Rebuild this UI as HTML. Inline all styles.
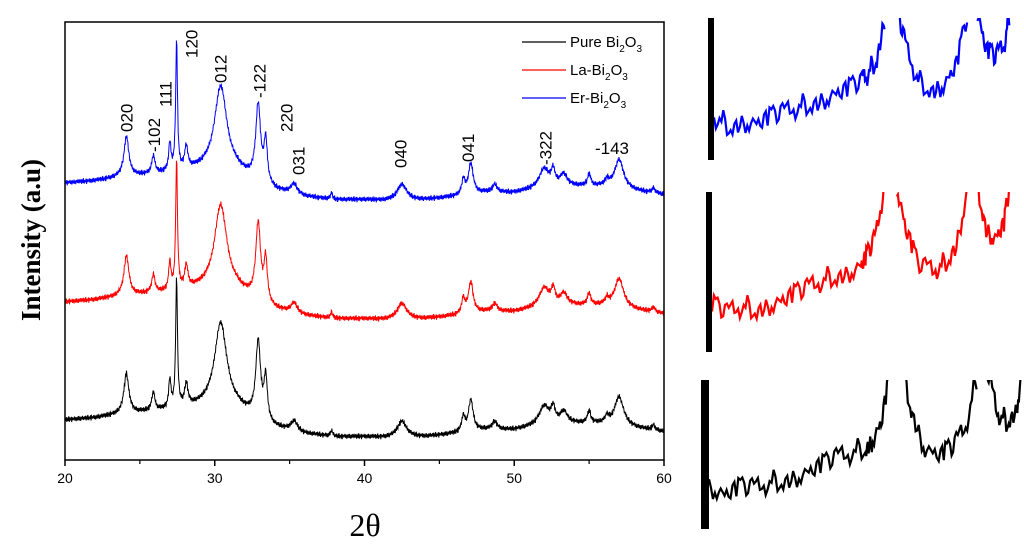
<!DOCTYPE html>
<html><head><meta charset="utf-8">
<style>
html,body{margin:0;padding:0;background:#fff;width:1024px;height:545px;overflow:hidden}
svg text{font-family:"Liberation Sans",Arial,sans-serif}
</style></head>
<body>
<svg id="chart" width="1024" height="545" viewBox="0 0 1024 545" xmlns="http://www.w3.org/2000/svg">
  <g id="plot"></g>
  <g id="labels"></g>
  <g id="axes"></g>
  <g id="legend"></g>
  <g id="insets"></g>
  <text x="40" y="240" transform="rotate(-90 40 240)" text-anchor="middle" style="font-family:'Liberation Serif',serif;font-weight:bold;font-size:27px">Intensity (a.u)</text>
  <text x="365" y="536" text-anchor="middle" style="font-family:'Liberation Serif',serif;font-size:32px">2θ</text>
</svg>
<script>
// ---- data ----
const seriesNames = ["Pure Bi2O3","La-Bi2O3","Er-Bi2O3"];
const seriesColors = ["#000000","#ff0000","#0000ff"];
const seriesOffsets = [0, 118, 237]; // intensity offset per series
const baseX = [20,22,23.5,25,26.5,28.5,29.5,31.5,32.2,34,36,38,40,41.5,44,46,48,50,51,54,56,58,60];
const baseY = [40,42,45,47,49,52,53,50,45,32,26,23,23,22,23,26,30,30,32,36,36,32,28];
const peakPos = [24.1,25.9,27.0,27.45,28.1,30.4,32.9,33.4,35.3,37.8,42.5,46.6,47.1,48.7,52.0,52.6,53.3,55.0,56.2,57.0,59.3];
const peakH   = [40,18,28,130,22,85,76,42,10,6,16,15,31,8,20,15,12,12,6,29,5];
const peakW   = [0.2,0.13,0.09,0.07,0.13,0.5,0.19,0.13,0.25,0.08,0.38,0.13,0.19,0.19,0.42,0.15,0.3,0.13,0.13,0.36,0.13];
const jitter = [0,1.5,-1,2,-2,0.5,1,-1.5,2.5,-0.5,-2,1,0,-1,2,-2.5,1.5,0.5,-1,1,-0.5,2,-1.5,0,1.5,-2,0.5,1,-1,-0.5,2,-1.5,1,0,-2,1.5,-0.5,0.5,-1,2,0.5,-1.5,1];
const xTicks = [20,30,40,50,60];
const peakLabels = ["020","-102","111","120","012","-122","220","031","040","041","-322"];
const peakLabelX = [24.1,25.95,26.7,28.45,30.4,33.0,34.8,35.6,42.4,46.9,52.1];
const peakLabelBottomI = [328,308,353,402,377,362,328,285,292,298,295];
// insets: level 0..1 along inset width (fraction)
const insetSegX = [[0,0.05,0.1,0.15,0.2,0.25,0.3,0.35,0.4,0.45,0.5,0.52,0.55,0.58],[0.62,0.65,0.69,0.74,0.78,0.82,0.86],[0.89,0.92,0.95,0.98,1.0]];
const insetSegY = [[0.3,0.24,0.28,0.27,0.31,0.34,0.38,0.42,0.47,0.5,0.55,0.6,0.72,1.05],[1.05,0.78,0.55,0.5,0.55,0.68,1.05],[1.05,0.78,0.72,0.8,1.05]];

// ---- scales ----
const X0=65,X1=664,Y0=22,Y1=460;
const xs = v => X0 + (v-20)/(60-20)*(X1-X0);
const ys = v => Y1 - v;
const NS="http://www.w3.org/2000/svg";
function mk(tag, attrs, parent){const e=document.createElementNS(NS,tag);for(const k in attrs)e.setAttribute(k,attrs[k]);parent.appendChild(e);return e;}
function baseAt(x){for(let i=0;i<baseX.length-1;i++){if(x<=baseX[i+1]){const t=(x-baseX[i])/(baseX[i+1]-baseX[i]);return baseY[i]+t*(baseY[i+1]-baseY[i]);}}return baseY[baseY.length-1];}
function intensity(x){let s=baseAt(x);for(let i=0;i<peakPos.length;i++){const d=(x-peakPos[i])/peakW[i];s+=peakH[i]/(1+d*d);}return s;}

const plot=document.getElementById('plot');
const defs=mk('defs',{},plot);
const cp=mk('clipPath',{id:'pc'},defs);mk('rect',{x:X0,y:Y0,width:X1-X0,height:Y1-Y0},cp);
const g=mk('g',{'clip-path':'url(#pc)'},plot);
for(let s=0;s<3;s++){
  let d="";let k=0;
  for(let x=20;x<=60.001;x+=0.03){const v=intensity(x)+seriesOffsets[s]+jitter[(k+s*5)%jitter.length]*1.2;d+=(k?"L":"M")+xs(x).toFixed(1)+","+ys(v).toFixed(1);k++;}
  const p=mk('path',{d:d,fill:'none',stroke:seriesColors[s],'stroke-width':1},g);
  
  
}
// axes
const ax=document.getElementById('axes');
const fr=mk('rect',{x:X0,y:Y0,width:X1-X0,height:Y1-Y0,fill:'none',stroke:'#000','stroke-width':1.5},ax);


xTicks.forEach(t=>{
  mk('line',{x1:xs(t),x2:xs(t),y1:Y1,y2:Y1+6,stroke:'#000','stroke-width':1.5},ax);
  const tx=mk('text',{x:xs(t),y:Y1+23,'text-anchor':'middle','font-size':14},ax);tx.textContent=t;
  
  
  if(t<60) mk('line',{x1:xs(t+5),x2:xs(t+5),y1:Y1,y2:Y1+4,stroke:'#000','stroke-width':1.2},ax);
});
// peak labels
const lb=document.getElementById('labels');
peakLabels.forEach((s,i)=>{
  const x=xs(peakLabelX[i])+6, y=ys(peakLabelBottomI[i]);
  const t=mk('text',{x:x,y:y,transform:`rotate(-90 ${x} ${y})`,'font-size':17},lb);t.textContent=s;
  
  
});
const t143=mk('text',{x:612,y:154,'text-anchor':'middle','font-size':17},lb);t143.textContent="-143";


// legend
const lg=document.getElementById('legend');
[0,1,2].forEach(i=>{
  const y=42+28*i;
  mk('line',{x1:522,x2:566,y1:y,y2:y,stroke:seriesColors[i],'stroke-width':1.2},lg);
  const pre=seriesNames[i].replace('Bi2O3','');
  const t=mk('text',{x:570,y:y+5,'font-size':15},lg);
  t.innerHTML=pre+'Bi<tspan dy="5" font-size="10">2</tspan><tspan dy="-5">O</tspan><tspan dy="5" font-size="10">3</tspan>';
  
  
});
// insets
const ins=document.getElementById('insets');
const panels=[{c:2,bx:708,x0:714,x1:1010,y0:18,y1:160},{c:1,bx:706,x0:712,x1:1010,y0:192,y1:352},{c:0,bx:701,x0:709,x1:1022,y0:380,y1:529}];
panels.forEach((P,pi)=>{
  const pg=mk('g',{},ins);
  
  
  mk('rect',{x:P.bx,y:P.y0,width:P.x0-P.bx,height:P.y1-P.y0,fill:'#000'},pg);
  const c=mk('clipPath',{id:'ic'+pi},defs);mk('rect',{x:P.x0,y:P.y0,width:P.x1-P.x0+2,height:P.y1-P.y0},c);
  const lgp=mk('g',{'clip-path':`url(#ic${pi})`},pg);
  insetSegX.forEach((sx,si)=>{
    let d="";let k=0;
    for(let j=0;j<sx.length-1;j++){
      for(let m=0;m<8;m++){
        const f=sx[j]+(sx[j+1]-sx[j])*m/8;
        const lv=insetSegY[si][j]+(insetSegY[si][j+1]-insetSegY[si][j])*m/8;
        const x=P.x0+f*(P.x1-P.x0), y=P.y1-lv*(P.y1-P.y0)+jitter[(k*3+si*7+pi)%jitter.length]*5;
        d+=(k?"L":"M")+x.toFixed(1)+","+y.toFixed(1);k++;
      }
    }
    mk('path',{d:d,fill:'none',stroke:seriesColors[P.c],'stroke-width':2.2},lgp);
  });
});
</script>
</body></html>
